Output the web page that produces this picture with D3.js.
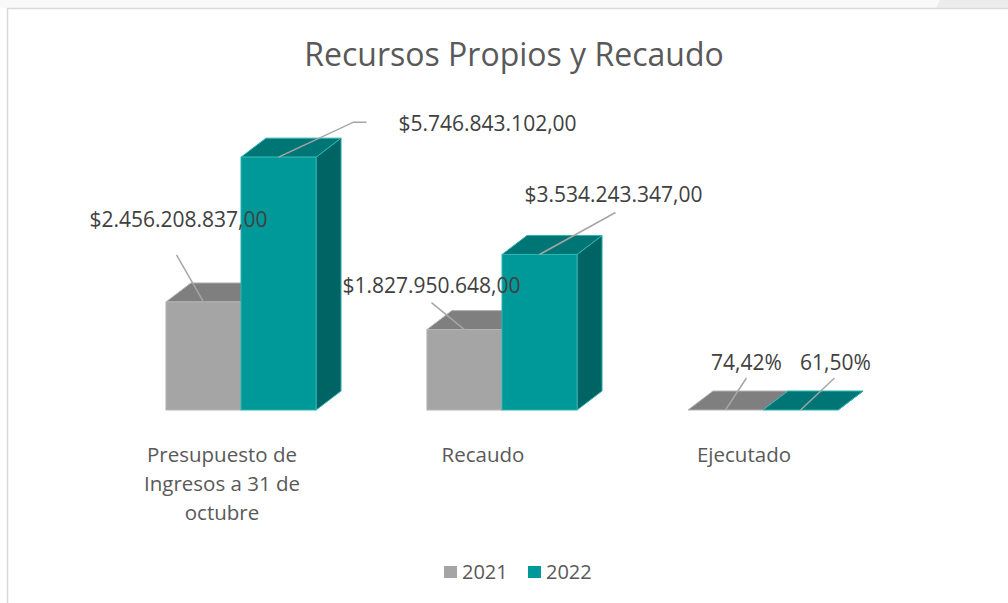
<!DOCTYPE html>
<html>
<head>
<meta charset="utf-8">
<script src="https://cdn.jsdelivr.net/npm/d3@7"></script>
<style>
  body { margin: 0; background: #ffffff; }
  svg { display: block; font-family: "Open Sans", "Noto Sans", sans-serif; }
</style>
</head>
<body>
<div id="graph-container"></div>
<script>
// Data
var categories = ["Presupuesto de Ingresos a 31 de octubre", "Recaudo", "Ejecutado"];
var categoryLines = [["Presupuesto de", "Ingresos a 31 de", "octubre"], ["Recaudo"], ["Ejecutado"]];
var seriesNames = ["2021", "2022"];
var values2021 = [2456208837.00, 1827950648.00, 0.7442];
var values2022 = [5746843102.00, 3534243347.00, 0.6150];
var labels2021 = ["$2.456.208.837,00", "$1.827.950.648,00", "74,42%"];
var labels2022 = ["$5.746.843.102,00", "$3.534.243.347,00", "61,50%"];

var svgWidth = 1008;
var svgHeight = 603;

var svg = d3.select("#graph-container")
  .append("svg")
  .attr("width", svgWidth)
  .attr("height", svgHeight);

// faint background strip above the chart frame
svg.append("rect").attr("x", 0).attr("y", 0).attr("width", svgWidth).attr("height", 8).attr("fill", "#f9f9f9");
svg.append("path").attr("d", "M940,0 L1008,0 L1008,8 L936,8 Z").attr("fill", "#ececec");

// chart frame
svg.append("rect")
  .attr("x", 7.5).attr("y", 8.5)
  .attr("width", 1010).attr("height", 600)
  .attr("fill", "#ffffff")
  .attr("stroke", "#d9d9d9")
  .attr("stroke-width", 1.5);

// Title
svg.append("text")
  .attr("x", 514)
  .attr("y", 66)
  .attr("text-anchor", "middle")
  .style("font-size", "32px")
  .style("fill", "#595959")
  .text("Recursos Propios y Recaudo");

// Scales
var x0 = d3.scaleBand()
  .domain(categories)
  .range([110.5, 893.5])
  .paddingInner(0.425)
  .paddingOuter(0.2125);

var x1 = d3.scaleBand()
  .domain(seriesNames)
  .range([0, x0.bandwidth()]);

var y = d3.scaleLinear()
  .domain([0, 6e9])
  .range([410, 146]);

// 3D depth offset
var depthX = 25, depthY = -19;

var styles = {
  "2021": { front: "#a5a5a5", top: "#7f7f7f", side: "#6f6f6f", stroke: "#b4b4b4" },
  "2022": { front: "#009999", top: "#007575", side: "#006464", stroke: "#2fb3b3" }
};

// leader / label offsets from the anchor on the bar's front top edge
var labelLayout = {
  "2021": [
    { line: [[-27, -47]], tx: -25, ty: -82, anchor: "middle" },
    { line: [[-33, -27]], tx: -33, ty: -44, anchor: "middle" },
    { line: [[21, -32]], tx: 21, ty: -47, anchor: "middle" }
  ],
  "2022": [
    { line: [[75, -35], [88, -35]], tx: 120, ty: -33, anchor: "start" },
    { line: [[76, -42]], tx: 74, ty: -60, anchor: "middle" },
    { line: [[34, -32]], tx: 35, ty: -47, anchor: "middle" }
  ]
};

var bars = [];
categories.forEach(function (c, i) {
  bars.push({ cat: c, i: i, series: "2021", value: values2021[i], label: labels2021[i] });
  bars.push({ cat: c, i: i, series: "2022", value: values2022[i], label: labels2022[i] });
});

function pts(arr) { return arr.map(function (p) { return p.join(","); }).join(" "); }

var chart = svg.append("g");

bars.forEach(function (d) {
  var s = styles[d.series];
  var xl = x0(d.cat) + x1(d.series);
  var xr = xl + x1.bandwidth();
  var yt = y(d.value);
  var yb = y(0);

  var g = chart.append("g");
  // side
  g.append("polygon")
    .attr("points", pts([[xr, yt], [xr + depthX, yt + depthY], [xr + depthX, yb + depthY], [xr, yb]]))
    .attr("fill", s.side).attr("stroke", s.stroke).attr("stroke-width", 1).attr("stroke-linejoin", "round");
  // top
  g.append("polygon")
    .attr("points", pts([[xl, yt], [xl + depthX, yt + depthY], [xr + depthX, yt + depthY], [xr, yt]]))
    .attr("fill", s.top).attr("stroke", s.stroke).attr("stroke-width", 1).attr("stroke-linejoin", "round");
  // front
  if (yb - yt > 0.5) {
    g.append("rect")
      .attr("x", xl).attr("y", yt)
      .attr("width", xr - xl).attr("height", yb - yt)
      .attr("fill", s.front).attr("stroke", s.stroke).attr("stroke-width", 1);
  }
});

// Data labels with leader lines
bars.forEach(function (d) {
  var xl = x0(d.cat) + x1(d.series);
  var ax = xl + x1.bandwidth() / 2;
  var ay = y(d.value);
  var lay = labelLayout[d.series][d.i];
  var linePts = [[ax, ay]].concat(lay.line.map(function (p) { return [ax + p[0], ay + p[1]]; }));
  chart.append("polyline")
    .attr("points", pts(linePts))
    .attr("fill", "none")
    .attr("stroke", "#a6a6a6")
    .attr("stroke-width", 1.5);
  chart.append("text")
    .attr("x", ax + lay.tx)
    .attr("y", ay + lay.ty)
    .attr("dy", "0.35em")
    .attr("text-anchor", lay.anchor)
    .style("font-size", "21px")
    .style("fill", "#404040")
    .text(d.label);
});

// Category labels
categories.forEach(function (c, i) {
  var cx = x0(c) + x0.bandwidth() / 2 - 19;
  var t = svg.append("text")
    .attr("text-anchor", "middle")
    .style("font-size", "20.5px")
    .style("fill", "#595959");
  categoryLines[i].forEach(function (line, k) {
    t.append("tspan")
      .attr("x", cx)
      .attr("y", 462 + k * 29)
      .text(line);
  });
});

// Legend
var legend = svg.append("g");
var legendX = [444, 528];
seriesNames.forEach(function (name, k) {
  legend.append("rect")
    .attr("x", legendX[k]).attr("y", 566)
    .attr("width", 13).attr("height", 12)
    .attr("fill", styles[name].front);
  legend.append("text")
    .attr("x", legendX[k] + 18).attr("y", 572)
    .attr("dy", "0.35em")
    .style("font-size", "20px")
    .style("fill", "#595959")
    .text(name);
});
</script>
</body>
</html>
